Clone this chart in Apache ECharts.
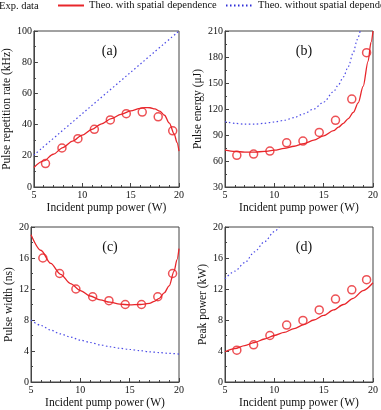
<!DOCTYPE html>
<html>
<head>
<meta charset="utf-8">
<script src="https://cdn.jsdelivr.net/npm/echarts@6/dist/echarts.min.js"></script>
<style>
  html, body { margin: 0; padding: 0; background: #fff; }
  #chart { width: 381px; height: 410px; }
</style>
</head>
<body>
<div id="chart"></div>
<script>
// measured pump powers (W)
const expX = [6.2, 7.9, 9.55, 11.25, 12.9, 14.55, 16.2, 17.85, 19.35]
const expRate = [15, 25, 31, 37, 43, 47, 48, 45, 36]
const expEnergy = [66.5, 68, 71.5, 81, 83, 93, 107, 131.5, 185]
const expWidth = [16, 14, 12, 11, 10.5, 10, 10, 11, 14]
const expPeak = [4.1, 4.8, 6, 7.35, 7.95, 9.3, 10.7, 11.9, 13.2]

// theory with spatial dependence
const thX = [5, 6, 7, 8, 9, 10, 11, 12, 13, 14, 15, 16, 16.5, 17, 17.5, 18, 18.5, 19, 19.5, 19.8, 20]
const rateWith = [12.5, 16.7, 21, 25.3, 29.4, 33.3, 37, 40.5, 43.8, 46.6, 48.8, 50.4, 50.9, 50.8, 50.1, 48.7, 46, 41, 34, 28.5, 23]
const energyWith = [72.5, 71, 70.3, 70.3, 71, 72.5, 74.5, 77, 80, 84, 89, 95, 99, 103.5, 109, 116, 127, 146, 175, 197, 210]
const widthWith = [19, 17, 15.3, 13.9, 12.7, 11.8, 11.1, 10.6, 10.3, 10.05, 9.95, 10, 10.05, 10.15, 10.4, 10.8, 11.5, 12.4, 14.3, 15.8, 17.2]
const powX = [5, 6, 7, 8, 9, 10, 11, 12, 13, 14, 15, 16, 17, 18, 19, 20]
const peakWith = [3.9, 4.3, 4.7, 5.1, 5.55, 6.0, 6.4, 6.9, 7.4, 8.0, 8.6, 9.3, 10.0, 10.8, 11.8, 12.8]

// theory without spatial dependence
const rateNoX = [5, 20]
const rateNo = [20.5, 100]
const energyNoX = [5, 6, 7, 8, 9, 10, 11, 12, 13, 14, 15, 16, 16.5, 17, 17.5, 18, 18.4, 18.7]
const energyNo = [105.5, 103.5, 102.5, 102.5, 103.5, 105, 107, 110, 114.5, 120, 128, 140, 148, 157, 169, 185, 200, 210]
const widthNo = [8, 7.3, 6.7, 6.2, 5.8, 5.4, 5.1, 4.8, 4.55, 4.35, 4.2, 4.05, 3.9, 3.8, 3.7, 3.6]
const peakNoX = [5, 6, 7, 8, 9, 10, 10.5]
const peakNo = [13.3, 14.3, 15.4, 16.8, 18.1, 19.4, 20]

const panelTitles = ['(a)', '(b)', '(c)', '(d)']
const yNames = ['Pulse repetition rate (kHz)', 'Pulse energy (\u03bcJ)', 'Pulse width (ns)', 'Peak power (kW)']
const yMin = [0, 30, 0, 0]
const yMax = [100, 210, 20, 20]
const yStep = [20, 30, 4, 4]

const EXP = 'Exp. data'
const WITH = 'Theo. with spatial dependence'
const WITHOUT = 'Theo. without spatial dependence'
const RED = '#e8262b'
const BLUE = '#4b4be6'
const FONT = '"Liberation Serif", "Times New Roman", serif'

const pairs = (xs, ys) => xs.map((x, i) => [x, ys[i]])

const grids = [
    {left: 30, top: 31, width: 149, height: 156},
    {left: 225, top: 31, width: 148, height: 156},
    {left: 31, top: 227, width: 148, height: 156},
    {left: 225, top: 227, width: 148, height: 156}
]
const yNameGap = [14, 19, 14, 15]

const expSets = [expRate, expEnergy, expWidth, expPeak]
const withSets = [pairs(thX, rateWith), pairs(thX, energyWith), pairs(thX, widthWith), pairs(powX, peakWith)]
const noSets = [pairs(rateNoX, rateNo), pairs(energyNoX, energyNo), pairs(powX, widthNo), pairs(peakNoX, peakNo)]

let chart = echarts.init(document.getElementById('chart'))

const series = []
grids.forEach((g, i) => {
    series.push({
        name: WITHOUT, type: 'line', xAxisIndex: i, yAxisIndex: i,
        data: noSets[i], symbol: 'none', smooth: 0.3, smoothMonotone: 'x',
        lineStyle: {color: BLUE, width: 1.2, type: [1.5, 2.5]}, itemStyle: {color: BLUE},
        z: 2
    })
    series.push({
        name: WITH, type: 'line', xAxisIndex: i, yAxisIndex: i,
        data: withSets[i], symbol: 'none', smooth: 0.3, smoothMonotone: 'x',
        lineStyle: {color: RED, width: 1.3}, itemStyle: {color: RED},
        z: 3
    })
    series.push({
        name: EXP, type: 'scatter', xAxisIndex: i, yAxisIndex: i,
        data: pairs(expX, expSets[i]), symbol: 'circle', symbolSize: 8,
        itemStyle: {color: 'rgba(255,255,255,0)', borderColor: RED, borderWidth: 1.5},
        z: 4
    })
})

const axisCommon = {
    axisLine: {show: true, onZero: false, lineStyle: {color: '#444', width: 1}},
    axisTick: {show: true, inside: true, length: 4, lineStyle: {color: '#444'}},
    splitLine: {show: false},
    nameTextStyle: {color: '#111', fontFamily: FONT, fontSize: 11.5}
}
const legendText = {fontFamily: FONT, fontSize: 10.5, color: '#111'}

chart.setOption({
    backgroundColor: '#fff',
    animation: false,
    textStyle: {fontFamily: FONT},
    legend: [
        {data: [{name: EXP, icon: 'emptyCircle'}], left: -19, top: 0, padding: 0, itemWidth: 14, itemHeight: 10, textStyle: legendText},
        {data: [WITH], left: 57, top: 0, padding: 0, itemWidth: 26, itemHeight: 10,
            itemStyle: {opacity: 0}, textStyle: legendText},
        {data: [WITHOUT], left: 225, top: 0, padding: 0, itemWidth: 27, itemHeight: 10,
            itemStyle: {opacity: 0}, lineStyle: {color: '#2e2ed8'}, textStyle: legendText}
    ],
    title: grids.map((g, i) => ({
        text: panelTitles[i],
        left: g.left + g.width / 2, top: g.top + 8, textAlign: 'center',
        textStyle: {fontFamily: FONT, fontSize: 14, fontWeight: 'normal', color: '#111'}
    })),
    grid: grids.map(g => Object.assign({show: true, borderColor: '#444', borderWidth: 1, backgroundColor: '#fff'}, g)),
    xAxis: grids.map((g, i) => Object.assign({}, axisCommon, {
        type: 'value', gridIndex: i, min: 5, max: 20, interval: 5,
        minorTick: {show: true, splitNumber: 5, length: 2, lineStyle: {color: '#444'}},
        name: 'Incident pump power (W)', nameLocation: 'middle', nameGap: 15,
        axisLabel: {color: '#111', fontFamily: FONT, fontSize: 10, margin: 3}
    })),
    yAxis: grids.map((g, i) => Object.assign({}, axisCommon, {
        type: 'value', gridIndex: i, min: yMin[i], max: yMax[i], interval: yStep[i],
        minorTick: {show: true, splitNumber: 2, length: 2, lineStyle: {color: '#444'}},
        name: yNames[i], nameLocation: 'middle', nameGap: yNameGap[i],
        axisLabel: {color: '#111', fontFamily: FONT, fontSize: 10, margin: 2}
    })),
    series: series
})
</script>
</body>
</html>
